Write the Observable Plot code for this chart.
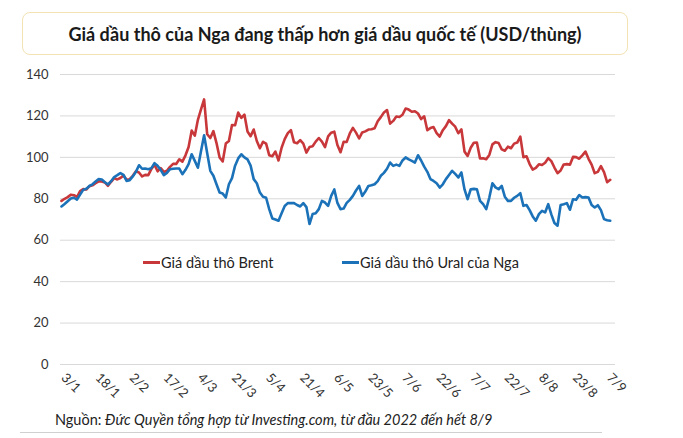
<!DOCTYPE html>
<html>
<head>
<meta charset="utf-8">
<script src="https://cdn.jsdelivr.net/npm/d3@7"></script>
<script src="https://cdn.jsdelivr.net/npm/@observablehq/plot@0.6"></script>
<style>
  body { margin: 0; background: #fff; font-family: Lato, "Open Sans", sans-serif; color: #222; }
  #wrap { position: relative; width: 683px; height: 438px; }
  .title { position: absolute; left: 22px; top: 12px; width: 606px; height: 43px; box-sizing: border-box;
    border: 1px solid #f3e2b3; border-radius: 8px; display: flex; align-items: center; justify-content: center;
    font-size: 18px; font-weight: 700; color: #1a1a1a; }
  #chart { position: absolute; left: 0; top: 58px; }
  .legend { position: absolute; top: 254px; font-size: 14.5px; color: #222; display: flex; align-items: center; }
  .legend .sw { display: inline-block; width: 17px; height: 3px; margin-right: 1px; }
  .caption { position: absolute; left: 55px; top: 411px; font-size: 14.5px; color: #222; }
  .bottomline { position: absolute; left: 20px; top: 432px; width: 582px; height: 1px; background: #d0d0d0; }
</style>
</head>
<body>
<div id="wrap">
  <div class="title">Giá dầu thô của Nga đang thấp hơn giá dầu quốc tế (USD/thùng)</div>
  <div id="chart"></div>
  <div class="legend" style="left:143px"><span class="sw" style="background:#c8373a"></span>Giá dầu thô Brent</div>
  <div class="legend" style="left:342px"><span class="sw" style="background:#1b72b8"></span>Giá dầu thô Ural của Nga</div>
  <div class="caption">Nguồn: <i>Đức Quyền tổng hợp từ Investing.com, từ đầu 2022 đến hết 8/9</i></div>
  <div class="bottomline"></div>
</div>
<script>
// Tick labels (every 11 trading days, starting 3/1/2022)
const tickLabels = ["3/1","18/1","2/2","17/2","4/3","21/3","5/4","21/4","6/5","23/5","7/6","22/6","7/7","22/7","8/8","23/8","7/9"];
const yTicks = [0, 20, 40, 60, 80, 100, 120, 140];

// Brent daily closes, 3/1/2022 – 8/9/2022 (USD/barrel)
const brent = [
  78.98, 80.00, 80.80, 81.99, 81.75, 80.87, 83.72, 84.67, 84.47, 86.06, 86.48, 87.51, 88.44, 88.38, 87.89, 86.27, 88.20, 89.96, 89.34, 90.03, 91.21,
  89.16, 89.47, 91.11, 93.27, 92.69, 90.78, 91.55, 91.41, 94.44, 96.48, 93.28, 94.81, 92.97, 93.54, 95.39, 96.84, 96.84, 99.08, 97.93, 100.99,
  104.97, 112.93, 110.46, 118.11, 123.21, 127.98, 111.14, 109.33, 112.67, 106.90, 99.91, 98.02, 106.64, 107.93, 115.62, 115.48, 121.60, 119.03, 120.65, 112.48, 110.23, 113.45, 107.91,
  104.39, 107.53, 106.64, 101.07, 100.58, 102.78, 98.48, 104.64, 108.78, 111.70, 113.16, 107.25, 106.80, 108.33, 106.65, 102.32, 104.99, 105.32, 107.59, 109.34,
  107.58, 104.97, 110.14, 111.90, 112.39, 105.94, 102.46, 107.51, 107.45, 111.55, 114.24, 111.93, 109.11, 112.04, 112.55, 113.42, 113.56, 114.03, 117.40, 119.43, 121.67, 122.84,
  116.29, 117.61, 119.72, 119.51, 120.57, 123.58, 123.07, 122.01, 122.27, 121.17, 118.51, 119.81, 113.12, 114.13, 114.65, 111.74, 110.05, 113.12, 115.09, 117.98, 116.26, 114.81,
  111.63, 113.50, 102.77, 100.69, 104.65, 107.02, 107.10, 99.49, 99.57, 99.10, 101.16, 106.27, 107.35, 106.92, 103.86, 103.20, 105.15, 104.40, 106.62, 107.14, 110.01,
  100.03, 100.54, 96.78, 94.12, 94.92, 96.65, 96.31, 97.40, 99.60, 98.15, 95.10, 92.34, 93.65, 96.59, 96.72, 96.48, 100.22, 100.10, 99.34, 100.99, 102.80, 99.31, 96.49,
  92.36, 93.02, 95.74, 92.83, 88.00, 89.15
];

// Urals
const ural = [
  76.3, 77.5, 78.8, 80.1, 80.5, 79.6, 82.0, 84.3, 84.8, 86.2,
  87.0, 88.3, 89.5, 89.3, 88.0, 86.9, 88.5, 90.5, 91.4, 92.4,
  91.5, 88.6, 89.0, 90.8, 93.0, 96.2, 94.5, 94.6, 94.3, 94.8,
  97.2, 95.9, 94.0, 91.4, 92.5, 94.3, 94.5, 94.6, 94.6, 91.9,
  94.0, 96.7, 101.5, 98.3, 95.0, 103.0, 110.7, 102.0, 93.5, 91.1,
  87.0, 83.0, 82.5, 80.6, 87.0, 90.0, 96.0, 99.5, 101.5, 100.0,
  99.0, 96.0, 89.5, 87.5, 83.0, 81.0, 80.5, 75.0, 70.5, 70.0,
  69.4, 73.0, 76.5, 77.9, 78.0, 77.9, 77.0, 76.3, 77.9, 76.0,
  67.8, 72.6, 73.0, 75.0, 79.0, 78.2, 76.6, 81.4, 84.5, 78.0,
  75.0, 75.3, 78.0, 79.5, 81.4, 84.0, 86.2, 81.4, 83.5, 86.2,
  86.5, 87.0, 88.5, 91.1, 92.5, 94.5, 97.5, 95.9, 96.5, 95.9,
  98.5, 100.0, 99.0, 98.3, 97.5, 101.0, 98.5, 95.5, 93.0, 89.5,
  88.6, 87.5, 85.4, 87.0, 89.5, 91.5, 93.5, 92.0, 90.3, 92.7,
  84.5, 79.8, 84.6, 84.8, 84.6, 79.0, 77.4, 75.0, 80.6, 87.5,
  85.5, 84.6, 86.2, 81.0, 79.0, 79.0, 80.5, 81.4, 82.7, 76.6,
  77.0, 74.5, 71.5, 69.4, 72.6, 74.2, 73.4, 77.4, 72.5, 68.3,
  67.0, 77.0, 77.4, 77.9, 74.7, 79.8, 79.5, 81.8, 80.6, 80.8,
  80.6, 77.0, 75.8, 76.9, 74.5, 70.2, 69.6, 69.4
];

const brentRows = brent.map((v, i) => ({i, v}));
const uralRows = ural.map((v, i) => ({i, v}));
const tickIdx = tickLabels.map((_, k) => k * 11);

const chart = Plot.plot({
  width: 683,
  height: 347,
  marginTop: 16,
  marginBottom: 41,
  marginLeft: 60,
  marginRight: 68,
  style: { fontFamily: "Lato, sans-serif", color: "#333", background: "transparent" },
  x: { type: "linear", domain: [-0.32, 178.7], axis: null },
  y: { domain: [0, 140], axis: null },
  marks: [
    Plot.ruleY(yTicks, { stroke: "#d9d9d9", strokeWidth: 1 }),
    Plot.axisY({ ticks: yTicks, tickSize: 0, tickPadding: 12, fontSize: 13, label: null }),
    Plot.axisX({ ticks: tickIdx, tickFormat: (d) => tickLabels[Math.round(d / 11)], tickSize: 0, tickPadding: 11,
      dx: 2, tickRotate: 45, textAnchor: "start", fontSize: 13, label: null }),
    Plot.line(brentRows, { x: "i", y: "v", stroke: "#c8373a", strokeWidth: 2.6 }),
    Plot.line(uralRows, { x: "i", y: "v", stroke: "#1b72b8", strokeWidth: 2.6 })
  ]
});
document.getElementById("chart").appendChild(chart);
</script>
</body>
</html>
